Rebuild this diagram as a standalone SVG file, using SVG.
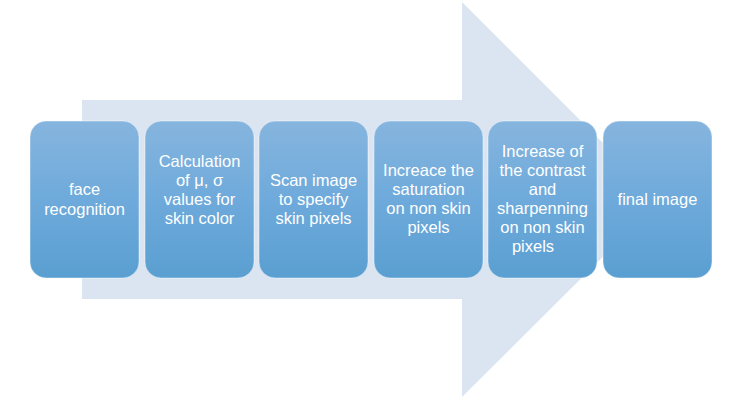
<svg xmlns="http://www.w3.org/2000/svg" width="756" height="406" viewBox="0 0 756 406">
<defs>
<linearGradient id="boxGrad" x1="0" y1="0" x2="0" y2="1">
<stop offset="0" stop-color="#86b5de"/>
<stop offset="0.5" stop-color="#6eaadb"/>
<stop offset="1" stop-color="#5a9fd1"/>
</linearGradient>
</defs>
<style>
.box{fill:url(#boxGrad);stroke:#ffffff;stroke-opacity:0.45;stroke-width:1}
.lbl{font-family:"Liberation Sans",Arial,sans-serif;font-size:16.5px;fill:#ffffff;text-anchor:middle}
</style>
<rect width="756" height="406" fill="#ffffff"/>
<g id="connectors">
<polygon points="82,100 462,100 462,2 660,200 462,397 462,299 82,299" fill="#dbe5f1"/>
</g>
<g id="node1">
<rect class="box" x="30" y="121" width="109" height="157" rx="16" ry="16"/>
<text class="lbl"><tspan x="84.5" y="195">face</tspan><tspan x="84.5" y="215">recognition</tspan></text>
</g>
<g id="node2">
<rect class="box" x="145" y="121" width="109" height="157" rx="16" ry="16"/>
<text class="lbl"><tspan x="199.5" y="167">Calculation</tspan><tspan x="199.5" y="186">of μ, σ</tspan><tspan x="199.5" y="205">values for</tspan><tspan x="199.5" y="224">skin color</tspan></text>
</g>
<g id="node3">
<rect class="box" x="259" y="121" width="109" height="157" rx="16" ry="16"/>
<text class="lbl"><tspan x="313.5" y="186">Scan image</tspan><tspan x="313.5" y="205">to specify</tspan><tspan x="313.5" y="224">skin pixels</tspan></text>
</g>
<g id="node4">
<rect class="box" x="374" y="121" width="109" height="157" rx="16" ry="16"/>
<text class="lbl"><tspan x="428.5" y="176">Increace the</tspan><tspan x="428.5" y="195">saturation</tspan><tspan x="428.5" y="214">on non skin</tspan><tspan x="428.5" y="233">pixels</tspan></text>
</g>
<g id="node5">
<rect class="box" x="488" y="121" width="109" height="157" rx="16" ry="16"/>
<text class="lbl"><tspan x="542.5" y="157">Increase  of</tspan><tspan x="542.5" y="176">the contrast</tspan><tspan x="542.5" y="195">and</tspan><tspan x="542.5" y="214">sharpenning</tspan><tspan x="542.5" y="233">on non skin</tspan><tspan x="533" y="252">pixels</tspan></text>
</g>
<g id="node6">
<rect class="box" x="603" y="121" width="109" height="157" rx="16" ry="16"/>
<text class="lbl"><tspan x="657.5" y="205">final image</tspan></text>
</g>
</svg>
